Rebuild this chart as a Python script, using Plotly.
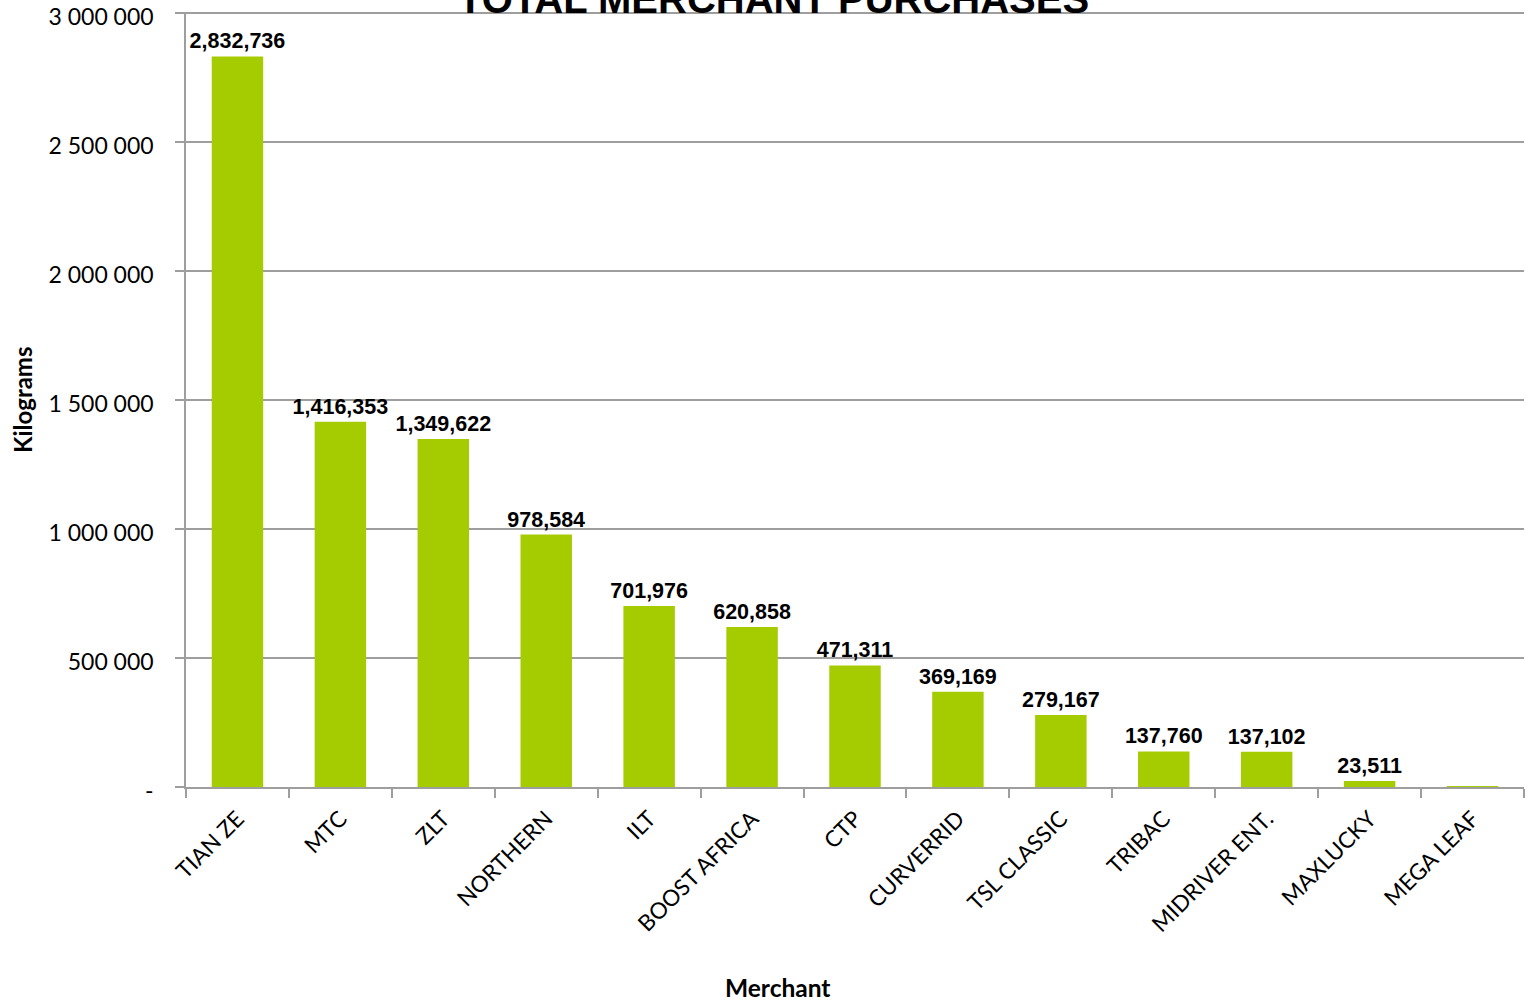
import plotly.graph_objects as go

merchants = ["TIAN ZE", "MTC", "ZLT", "NORTHERN", "ILT", "BOOST AFRICA", "CTP",
             "CURVERRID", "TSL CLASSIC", "TRIBAC", "MIDRIVER ENT.", "MAXLUCKY", "MEGA LEAF"]
kilograms = [2832736, 1416353, 1349622, 978584, 701976, 620858, 471311,
             369169, 279167, 137760, 137102, 23511, 3500]
show_label = [True] * 12 + [False]
y_tick_vals = [0, 500000, 1000000, 1500000, 2000000, 2500000, 3000000]
y_tick_text = ["-", "500 000", "1 000 000", "1 500 000", "2 000 000", "2 500 000", "3 000 000"]

labels = [f"{v:,}" if s else "" for v, s in zip(kilograms, show_label)]

L, R, T, B = 186, 6, 12, 214
W, H = 1530, 1001
pw = W - L - R
ph = H - T - B

fig = go.Figure(go.Bar(
    x=merchants, y=kilograms, text=labels, textposition="outside",
    cliponaxis=False, textangle=0, constraintext="none",
    textfont=dict(family="Liberation Sans, Arial", size=21.5, color="black", weight="bold"),
    marker=dict(color="#A5CC00", line=dict(width=0)),
    width=0.5,
))

fig.update_layout(
    width=W, height=H,
    margin=dict(l=L, r=R, t=T, b=B, autoexpand=False),
    paper_bgcolor="white", plot_bgcolor="white",
    showlegend=False,
    font=dict(family="Lato, Open Sans, sans-serif", size=20, color="black"),
)

fig.update_yaxes(
    range=[0, 3005000], tickvals=y_tick_vals, ticktext=y_tick_text,
    showgrid=True, gridcolor="#9e9e9e", gridwidth=1.5,
    showline=True, linecolor="#9e9e9e", linewidth=1.5,
    ticks="outside", ticklen=9, tickcolor="#9e9e9e", tickwidth=1.5,
    ticklabelstandoff=17, ticklabeloverflow="allow", ticklabelshift=4,
    zeroline=False, tickfont=dict(size=23), automargin=False,
)
fig.update_xaxes(
    tickangle=-45, tickson="boundaries",
    showline=True, linecolor="#9e9e9e", linewidth=1.5,
    ticks="outside", ticklen=9, tickcolor="#9e9e9e", tickwidth=1.5,
    ticklabelstandoff=8, ticklabeloverflow="allow",
    tickfont=dict(size=22.5), automargin=False,
)

fig.add_annotation(
    text="<b>Kilograms</b>", xref="paper", yref="paper",
    x=-(L - 22) / pw, y=(H - B - 400) / ph, xanchor="center", yanchor="middle", textangle=-90,
    showarrow=False, font=dict(size=24, color="black"),
)
fig.add_annotation(
    text="<b>Merchant</b>", xref="paper", yref="paper",
    x=(777 - L) / pw, y=-(987 - T - ph) / ph, xanchor="center", yanchor="middle",
    showarrow=False, font=dict(size=24.5, color="black"),
)
fig.add_annotation(
    text="<b>TOTAL MERCHANT PURCHASES</b>", xref="paper", yref="paper",
    x=(773 - L) / pw, y=1, xanchor="center", yanchor="bottom", yshift=-11,
    showarrow=False, font=dict(family="Liberation Sans Narrow, Arial Narrow, Liberation Sans", size=40, color="black"),
)

fig.write_html(
    "out.html",
    config={"displayModeBar": False},
    post_script="document.body.style.margin='0';document.body.style.overflow='hidden';",
)
